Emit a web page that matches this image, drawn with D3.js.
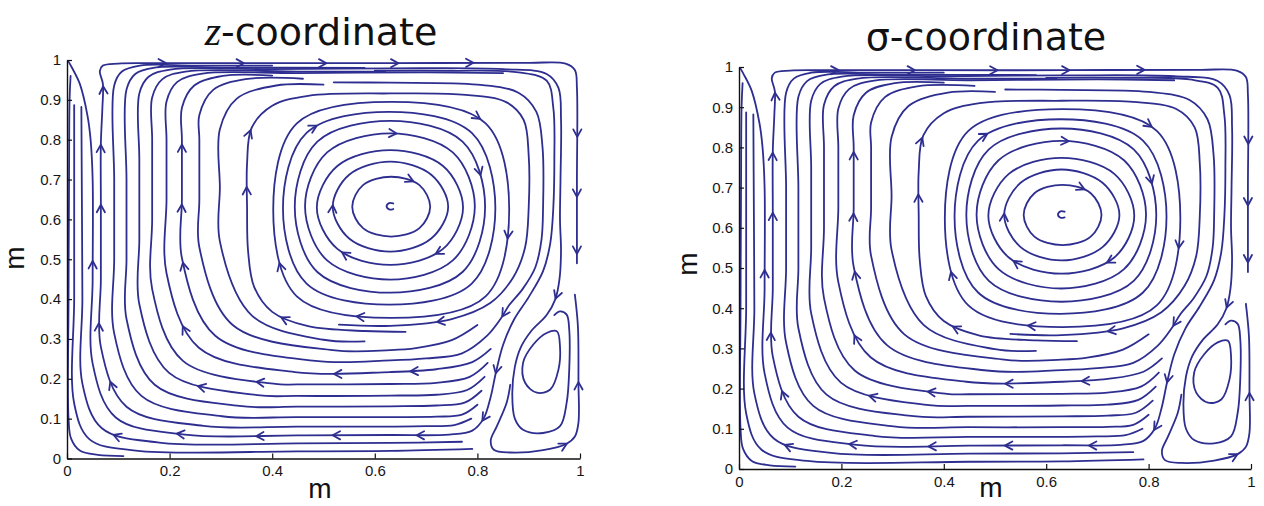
<!DOCTYPE html>
<html>
<head>
<meta charset="utf-8">
<script src="https://cdn.jsdelivr.net/npm/d3@7"></script>
<style>
  body { margin: 0; background: #fff; }
  .tick text { font-family: "Liberation Sans", Arial, sans-serif; font-size: 15px; fill: #151515; }
</style>
</head>
<body>
<svg id="chart" width="1264" height="506"></svg>
<script>
// ---- values (data units, 0..1 on both axes) ----
var xTicks = [0, 0.2, 0.4, 0.6, 0.8, 1];
var xTickLabels = ["0", "0.2", "0.4", "0.6", "0.8", "1"];
var yTicks = [0, 0.1, 0.2, 0.3, 0.4, 0.5, 0.6, 0.7, 0.8, 0.9, 1];
var yTickLabels = ["0", "0.1", "0.2", "0.3", "0.4", "0.5", "0.6", "0.7", "0.8", "0.9", "1"];

// closed rings of the main eddy, inner to outer
var innerRings = [
  [[.708,.632],[.687,.578],[.632,.557],[.577,.578],[.556,.632],[.577,.686],[.632,.707],[.687,.686]],
  [[.743,.632],[.710,.552],[.630,.519],[.550,.552],[.518,.632],[.550,.712],[.630,.745],[.710,.712]],
  [[.772,.630],[.733,.526],[.630,.486],[.527,.526],[.487,.630],[.527,.734],[.630,.774],[.733,.734]],
  [[.795,.633],[.752,.497],[.630,.449],[.507,.497],[.464,.633],[.507,.768],[.630,.816],[.752,.768]],
  [[.815,.632],[.771,.468],[.630,.416],[.488,.468],[.444,.632],[.488,.795],[.630,.847],[.771,.795]],
  [[.835,.628],[.789,.439],[.628,.386],[.467,.439],[.421,.628],[.467,.817],[.628,.870],[.789,.817]],
  [[.862,.624],[.816,.407],[.632,.353],[.448,.407],[.402,.624],[.448,.841],[.632,.895],[.816,.841]]
];

// little hook at the eddy centre
var centreHook = [[.636,.640],[.628,.641],[.623,.633],[.628,.625],[.636,.626]];

// open streamlines of the main eddy, in flow order
var outerLines = [
  [[.66,.318],[.58,.320],[.47,.332],[.40,.368],[.365,.43],[.353,.52],[.351,.63],[.351,.74],[.36,.83],[.40,.885],[.47,.910],[.63,.916],[.77,.913],[.855,.895],[.89,.85],[.900,.76],[.900,.63],[.893,.53],[.87,.455],[.825,.39],[.75,.350],[.63,.333],[.53,.336]],
  [[.11,.006],[.06,.009],[.025,.02],[.008,.05],[.003,.10],[.003,.40],[.004,.70],[.005,.90],[.007,.96]],
  [[.79,.024],[.63,.019],[.45,.018],[.134,.020],[.044,.048],[.014,.138],[.014,.40],[.014,.65],[.014,.887]],
  [[.77,.042],[.63,.039],[.45,.038],[.180,.040],[.068,.076],[.030,.188],[.030,.40],[.029,.65],[.028,.882]],
  [[.60,.973],[.75,.973],[.88,.969],[.935,.948],[.948,.88],[.950,.75],[.948,.63],[.942,.54],[.928,.47],[.900,.405],[.872,.350],[.850,.285],[.836,.215],[.825,.150],[.812,.100],[.790,.070],[.745,.060],[.63,.059],[.45,.058],[.230,.060],[.095,.103],[.050,.238],[.050,.45],[.050,.70],[.046,.80],[.040,.86],[.025,.94],[.010,.98],[.003,.996]],
  [[.788,.100],[.755,.084],[.70,.081],[.63,.080],[.45,.080],[.266,.082],[.116,.130],[.066,.280],[.066,.45],[.066,.64],[.066,.79],[.069,.88],[.070,.94],[.064,.972],[.070,.986],[.10,.991],[.16,.992],[.35,.992],[.63,.992],[.90,.993],[.972,.991],[.990,.975],[.994,.93],[.994,.70],[.994,.49]],
  [[.800,.135],[.77,.110],[.72,.105],[.63,.104],[.45,.104],[.302,.106],[.145,.157],[.092,.314],[.092,.50],[.092,.70],[.092,.936],[.107,.971],[.142,.986],[.25,.986],[.40,.986]],
  [[.808,.170],[.775,.140],[.72,.133],[.63,.131],[.45,.130],[.336,.132],[.171,.185],[.116,.350],[.116,.50],[.116,.70],[.116,.926],[.133,.965],[.171,.981],[.30,.981],[.58,.980]],
  [[.814,.205],[.78,.172],[.72,.160],[.63,.158],[.45,.157],[.371,.159],[.199,.215],[.141,.387],[.141,.55],[.141,.75],[.141,.916],[.159,.958],[.201,.976],[.40,.977],[.63,.979],[.85,.977],[.935,.965],[.958,.93],[.963,.85],[.962,.70],[.961,.60],[.963,.52],[.960,.45],[.952,.40],[.935,.36],[.905,.32],[.885,.28],[.873,.23],[.868,.16],[.873,.10],[.889,.072],[.928,.064],[.961,.081],[.974,.14],[.979,.223],[.979,.323],[.974,.361],[.961,.369],[.950,.36]],
  [[.820,.240],[.785,.205],[.72,.190],[.63,.187],[.45,.186],[.406,.187],[.226,.245],[.166,.425],[.166,.60],[.166,.80],[.166,.906],[.186,.952],[.231,.971],[.45,.971],[.62,.971]],
  [[.826,.275],[.79,.242],[.72,.224],[.63,.217],[.444,.217],[.257,.278],[.194,.465],[.194,.65],[.194,.80],[.194,.896],[.215,.945],[.264,.966],[.45,.967],[.70,.969],[.85,.967]],
  [[.52,.944],[.63,.943],[.80,.938],[.88,.918],[.915,.87],[.927,.78],[.928,.63],[.925,.55],[.913,.48],[.888,.425],[.862,.385],[.845,.350],[.818,.307],[.77,.264],[.70,.251],[.63,.246],[.484,.245],[.289,.308],[.224,.503],[.224,.65],[.224,.80],[.224,.880],[.248,.936],[.304,.960],[.40,.961]],
  [[.80,.335],[.75,.297],[.68,.277],[.63,.272],[.518,.272],[.323,.335],[.258,.530],[.258,.65],[.258,.80],[.258,.862],[.285,.925],[.348,.952],[.46,.953]],
  [[.58,.294],[.50,.298],[.361,.358],[.298,.545],[.298,.68],[.298,.826],[.331,.903],[.408,.936],[.50,.938]]
];

// corner eddy, bottom right
var cornerInner = [[.955,.319],[.961,.281],[.958,.223],[.942,.173],[.916,.165],[.893,.190],[.889,.240],[.909,.286],[.935,.315]];
var cornerOuter = [[.864,.185],[.857,.140],[.838,.081],[.826,.045],[.832,.022],[.864,.015],[.928,.021],[.974,.037],[.990,.055],[.997,.09],[.997,.19],[.996,.33],[.990,.411]];

// where the arrow heads sit
var arrowSpots = [
  [.194,.992],[.344,.992],[.506,.992],[.646,.992],[.792,.992],
  [.994,.808],[.994,.657],[.994,.515],
  [.070,.935],[.066,.787],[.066,.637],
  [.224,.787],[.224,.637],[.351,.829],[.351,.682],[.49,.825],[.518,.637],
  [.643,.816],[.678,.705],[.805,.85],[.812,.712],[.86,.55],[.714,.522],[.538,.522],
  [.050,.495],[.224,.49],[.402,.486],
  [.068,.340],[.237,.340],[.415,.348],
  [.084,.194],[.259,.198],[.370,.206],
  [.090,.062],[.214,.052],[.370,.059],[.519,.059],[.682,.059],
  [.720,.345],[.565,.357],[.848,.356],[.669,.217],[.519,.217],
  [.834,.215],[.812,.095],[.955,.40],[.997,.19],[.974,.037]
];

var panels = [
  { title: "z", titleRest: "-coordinate", tx: 321, ty: 45, x0: 67, x1: 580, yb: 458.5, yt: 60, xl: 320, xlY: 498, ylX: 24, ylY: 258 },
  { title: null, titleRest: "\u03c3-coordinate", tx: 986, ty: 50, x0: 739, x1: 1251, yb: 469, yt: 67, xl: 991, xlY: 497, ylX: 697, ylY: 264 }
];

var streamColor = "#2e2e90";
var svg = d3.select("#chart");

function drawPanel(p) {
  var g = svg.append("g");
  var sx = d3.scaleLinear().domain([0, 1]).range([p.x0, p.x1]);
  var sy = d3.scaleLinear().domain([0, 1]).range([p.yb, p.yt]);

  var openLine = d3.line().x(function(d) { return sx(d[0]); }).y(function(d) { return sy(d[1]); })
    .curve(d3.curveCatmullRom.alpha(0.5));
  var closedLine = d3.line().x(function(d) { return sx(d[0]); }).y(function(d) { return sy(d[1]); })
    .curve(d3.curveCatmullRomClosed.alpha(0.5));

  var lines = g.append("g")
    .attr("fill", "none")
    .attr("stroke", streamColor)
    .attr("stroke-width", 1.8)
    .attr("stroke-linejoin", "round")
    .attr("stroke-linecap", "round");

  lines.selectAll(".ring").data(innerRings.concat([cornerInner])).enter().append("path")
    .attr("class", "ring stream").attr("d", closedLine);
  lines.selectAll(".open").data(outerLines.concat([cornerOuter, centreHook])).enter().append("path")
    .attr("class", "open stream").attr("d", openLine);

  // sample every path once so arrows can snap to the nearest line
  var samples = [];
  lines.selectAll(".stream").each(function() {
    var node = this, len = node.getTotalLength();
    for (var l = 0; l <= len; l += 1.5) {
      var q = node.getPointAtLength(l);
      samples.push({ x: q.x, y: q.y, node: node, l: l, len: len });
    }
  });

  arrowSpots.forEach(function(s) {
    var px = sx(s[0]), py = sy(s[1]), best = null, bd = Infinity;
    samples.forEach(function(q) {
      var d = (q.x - px) * (q.x - px) + (q.y - py) * (q.y - py);
      if (d < bd) { bd = d; best = q; }
    });
    var a = best.node.getPointAtLength(Math.max(0, best.l - 2.5));
    var b = best.node.getPointAtLength(Math.min(best.len, best.l + 2.5));
    var ang = Math.atan2(b.y - a.y, b.x - a.x);
    var size = 8.5, spread = 0.5;
    var p1 = [best.x - size * Math.cos(ang - spread), best.y - size * Math.sin(ang - spread)];
    var p2 = [best.x - size * Math.cos(ang + spread), best.y - size * Math.sin(ang + spread)];
    lines.append("path").attr("d", "M" + p1 + "L" + best.x + "," + best.y + "L" + p2);
  });

  // axes, MATLAB style ticks pointing inwards
  var xAxis = d3.axisBottom(sx).tickValues(xTicks)
    .tickFormat(function(d, i) { return xTickLabels[i]; })
    .tickSizeInner(-5).tickSizeOuter(0).tickPadding(7);
  var yAxis = d3.axisLeft(sy).tickValues(yTicks)
    .tickFormat(function(d, i) { return yTickLabels[i]; })
    .tickSizeInner(-5).tickSizeOuter(0).tickPadding(6);

  var gx = g.append("g").attr("transform", "translate(0," + p.yb + ")").call(xAxis);
  var gy = g.append("g").attr("transform", "translate(" + p.x0 + ",0)").call(yAxis);
  [gx, gy].forEach(function(ax) {
    ax.select(".domain").attr("stroke", "#111").attr("stroke-width", 1.4);
    ax.selectAll(".tick line").attr("stroke", "#111").attr("stroke-width", 1.2);
  });

  // titles and axis labels
  var t = g.append("text").attr("x", p.tx).attr("y", p.ty).attr("text-anchor", "middle")
    .attr("font-family", "DejaVu Sans, sans-serif").attr("font-size", 38).attr("fill", "#111");
  if (p.title) {
    t.append("tspan").attr("font-family", "Liberation Serif, serif").attr("font-style", "italic")
      .attr("font-size", 42).text(p.title);
  }
  t.append("tspan").text(p.titleRest);

  g.append("text").attr("x", p.xl).attr("y", p.xlY).attr("text-anchor", "middle")
    .attr("font-family", "Liberation Sans, Arial, sans-serif").attr("font-size", 28).attr("fill", "#111")
    .text("m");
  g.append("text").attr("transform", "translate(" + p.ylX + "," + p.ylY + ") rotate(-90)")
    .attr("text-anchor", "middle")
    .attr("font-family", "Liberation Sans, Arial, sans-serif").attr("font-size", 28).attr("fill", "#111")
    .text("m");
}

panels.forEach(drawPanel);
</script>
</body>
</html>
